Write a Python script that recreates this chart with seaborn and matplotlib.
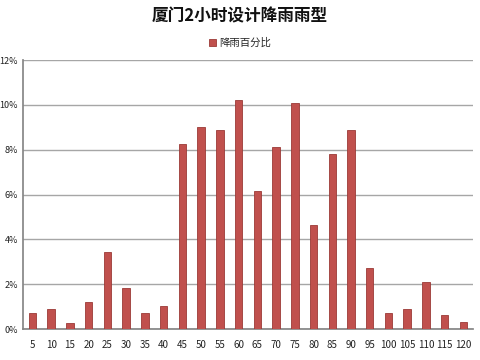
import matplotlib
matplotlib.use("Agg")
import matplotlib.pyplot as plt
import seaborn as sns
import pandas as pd
from matplotlib.ticker import FuncFormatter, FixedLocator

# 降雨时段 (min) 与降雨百分比 (%)
minutes = ["5", "10", "15", "20", "25", "30", "35", "40", "45", "50", "55", "60",
           "65", "70", "75", "80", "85", "90", "95", "100", "105", "110", "115", "120"]
percent = [0.73, 0.88, 0.28, 1.20, 3.44, 1.81, 0.73, 1.01, 8.27, 9.00, 8.86, 10.24,
           6.16, 8.14, 10.07, 4.66, 7.81, 8.88, 2.72, 0.73, 0.89, 2.09, 0.61, 0.30]
series_name = "降雨百分比"
title = "厦门2小时设计降雨雨型"

sns.set_theme(style="white")
plt.rcParams["font.family"] = ["Noto Sans CJK SC", "DejaVu Sans"]

df = pd.DataFrame({"时段": minutes, "百分比": percent})

fig = plt.figure(figsize=(4.8, 3.6), dpi=100)
ax = fig.add_axes([0.048, 0.086, 0.937, 0.747])

sns.barplot(data=df, x="时段", y="百分比", color="#C0504D", width=0.4,
            edgecolor="#9B3A37", linewidth=0.6, saturation=1, ax=ax,
            label=series_name, zorder=3)
if ax.get_legend() is not None:
    ax.get_legend().remove()

ax.set_ylim(0, 12)
ax.set_xlim(-0.5, len(minutes) - 0.5)
ax.set_yticks(range(0, 13, 2))
ax.yaxis.set_major_formatter(FuncFormatter(lambda v, p: f"{int(v)}%"))
ax.grid(axis="y", color="#A6A6A6", linewidth=1.0, zorder=0)
ax.set_xlabel("")
ax.set_ylabel("")

for side in ["top", "right"]:
    ax.spines[side].set_visible(False)
ax.spines["left"].set_color("#868686")
ax.spines["bottom"].set_color("#868686")

ax.tick_params(axis="x", which="major", length=0, labelsize=7, pad=8, colors="#222222")
ax.xaxis.set_minor_locator(FixedLocator([i - 0.5 for i in range(len(minutes) + 1)]))
ax.tick_params(axis="x", which="minor", length=4, color="#868686", direction="out")
ax.tick_params(axis="y", length=2, color="#868686", labelsize=6.5, pad=1.5, colors="#222222")

fig.suptitle(title, y=0.98, fontsize=12, fontweight="bold", color="#111111")
fig.legend(loc="center", bbox_to_anchor=(0.5, 0.88), frameon=False,
           fontsize=7.5, handlelength=0.6, handleheight=0.6, handletextpad=0.3)

fig.savefig("out.png", dpi=100)
